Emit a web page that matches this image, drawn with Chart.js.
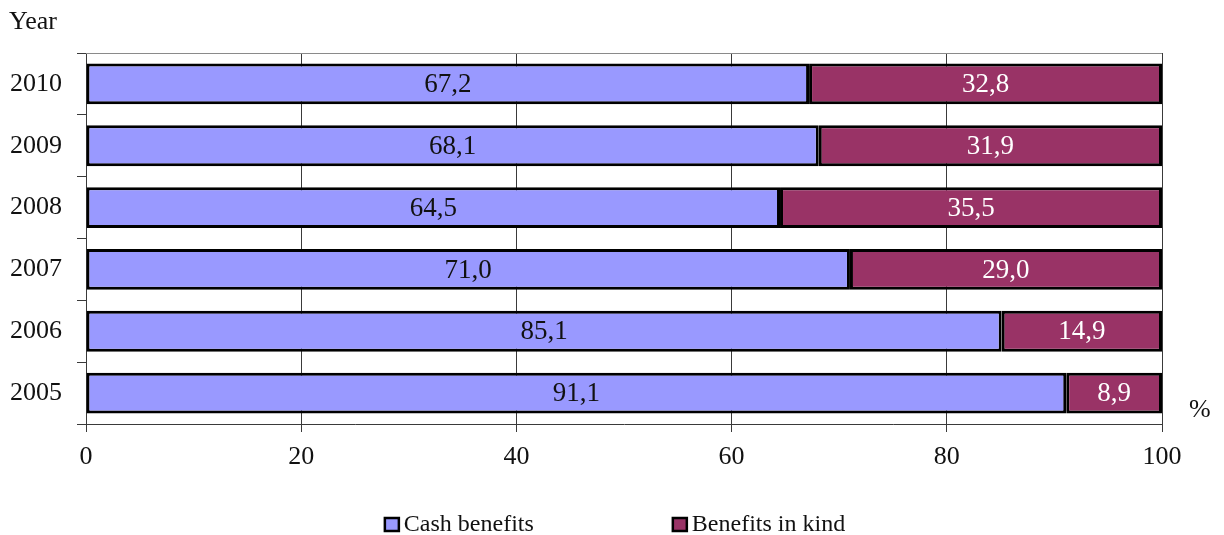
<!DOCTYPE html>
<html>
<head>
<meta charset="utf-8">
<script src="https://cdn.jsdelivr.net/npm/chart.js@4/dist/chart.umd.min.js"></script>
<style>
  html, body { margin: 0; padding: 0; background: #fff; }
  #wrap { width: 1224px; height: 535px; position: relative; }
</style>
</head>
<body>
<div id="wrap"><canvas id="c" width="1224" height="535"></canvas></div>
<script>
// Share of social benefits by form, per year (%)
const years = ['2005', '2006', '2007', '2008', '2009', '2010'];
const cashBenefits = [91.1, 85.1, 71.0, 64.5, 68.1, 67.2];
const benefitsInKind = [8.9, 14.9, 29.0, 35.5, 31.9, 32.8];
const seriesNames = ['Cash benefits', 'Benefits in kind'];
const xTicks = [0, 20, 40, 60, 80, 100];

const FONT = '"Liberation Serif", "Times New Roman", serif';
const CASH = '#9999FF';
const KIND = '#993366';
const LINE = '#3a3a3a';

const fmt = v => v.toFixed(1).replace('.', ',');

// Value labels, frame line, axis captions and legend
const decorations = {
  id: 'decorations',
  afterDatasetsDraw(chart) {
    const ctx = chart.ctx;
    const area = chart.chartArea;
    ctx.save();

    // top frame line of the plot area
    ctx.strokeStyle = '#8a8a8a';
    ctx.lineWidth = 1;
    ctx.beginPath();
    ctx.moveTo(area.left, Math.round(area.top) + 0.5);
    ctx.lineTo(area.right, Math.round(area.top) + 0.5);
    ctx.stroke();

    // segment values
    ctx.font = '27px ' + FONT;
    ctx.textAlign = 'center';
    ctx.textBaseline = 'middle';
    chart.data.datasets.forEach((ds, di) => {
      const meta = chart.getDatasetMeta(di);
      meta.data.forEach((el, i) => {
        const cx = (el.x + el.base) / 2;
        ctx.fillStyle = di === 0 ? '#111' : '#fff';
        ctx.fillText(fmt(ds.data[i]), cx, el.y + 1);
      });
    });

    // axis captions
    ctx.font = '26px ' + FONT;
    ctx.fillStyle = '#111';
    ctx.textAlign = 'left';
    ctx.textBaseline = 'alphabetic';
    ctx.fillText('Year', 9, 29);
    ctx.fillText('%', 1189, 417);

    // legend
    ctx.font = '24px ' + FONT;
    const boxW = 14, boxH = 13, gapBox = 5, gapItems = 139;
    const widths = chart.data.datasets.map(ds => boxW + gapBox + ctx.measureText(ds.label).width);
    const total = widths.reduce((a, b) => a + b, 0) + gapItems * (widths.length - 1);
    let x = 615 - total / 2;
    const baseY = 531;
    chart.data.datasets.forEach((ds, di) => {
      ctx.fillStyle = ds.backgroundColor;
      ctx.fillRect(x, baseY - 13, boxW, boxH);
      ctx.strokeStyle = '#000';
      ctx.lineWidth = 2.5;
      ctx.strokeRect(x, baseY - 13, boxW, boxH);
      ctx.fillStyle = '#111';
      ctx.fillText(ds.label, x + boxW + gapBox, baseY);
      x += widths[di] + gapItems;
    });

    ctx.restore();
  }
};

new Chart(document.getElementById('c'), {
  type: 'bar',
  data: {
    labels: years,
    datasets: [
      { label: seriesNames[0], data: cashBenefits, backgroundColor: CASH, borderColor: '#000', borderWidth: 3, borderSkipped: false },
      { label: seriesNames[1], data: benefitsInKind, backgroundColor: KIND, borderColor: '#000', borderWidth: 3, borderSkipped: false }
    ]
  },
  options: {
    indexAxis: 'y',
    responsive: false,
    animation: false,
    layout: { padding: { left: 0, right: 62, top: 53, bottom: 0 } },
    datasets: { bar: { barPercentage: 0.66, categoryPercentage: 1.0 } },
    scales: {
      x: {
        stacked: true,
        min: 0, max: 100,
        afterBuildTicks: s => { s.ticks = xTicks.map(v => ({ value: v })); },
        afterFit: s => { s.height = 111; },
        grid: { color: LINE, lineWidth: 1, drawTicks: true, tickLength: 8, tickColor: LINE },
        border: { display: true, color: LINE, width: 1 },
        ticks: { color: '#111', font: { family: FONT, size: 26 }, padding: 10, maxRotation: 0 }
      },
      y: {
        stacked: true,
        reverse: true,
        afterFit: s => { s.width = 86; },
        grid: { drawOnChartArea: false, drawTicks: true, tickLength: 9, tickColor: LINE, offset: true },
        border: { display: true, color: LINE, width: 1 },
        ticks: { color: '#111', font: { family: FONT, size: 26 }, padding: 15 }
      }
    },
    plugins: {
      legend: { display: false },
      tooltip: { enabled: false }
    }
  },
  plugins: [decorations]
});
</script>
</body>
</html>
